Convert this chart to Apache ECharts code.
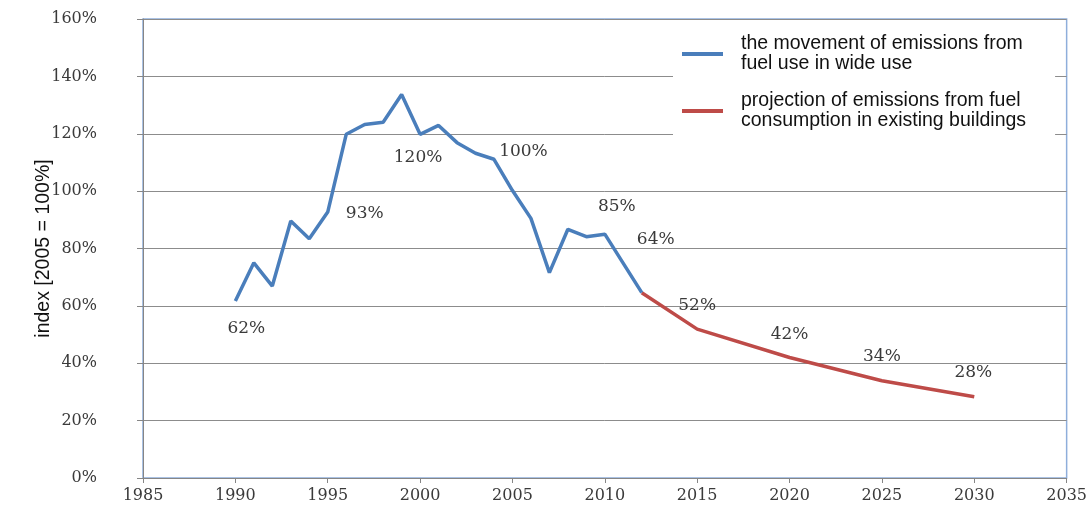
<!DOCTYPE html>
<html>
<head>
<meta charset="utf-8">
<script src="https://cdn.jsdelivr.net/npm/echarts@6/dist/echarts.min.js"></script>
<style>
  html, body { margin: 0; padding: 0; background: #fff; }
  #chart { width: 1090px; height: 512px; }
</style>
</head>
<body>
<div id="chart"></div>
<script>
// measured emissions index, 2005 = 100
const histYears = [1990, 1991, 1992, 1993, 1994, 1995, 1996, 1997, 1998, 1999, 2000,
  2001, 2002, 2003, 2004, 2005, 2006, 2007, 2008, 2009, 2010, 2011, 2012];
const histValues = [61.7, 75, 66.9, 89.6, 83.4, 92.7, 119.8, 123.2, 124, 133.7, 119.8,
  122.9, 116.9, 113.2, 111.1, 100.2, 90.5, 71.6, 86.7, 84.1, 85, 74.8, 64.6];

// projection for existing buildings
const projYears = [2012, 2015, 2020, 2025, 2030];
const projValues = [64.6, 51.9, 42, 33.9, 28.3];

// value labels written on the chart
const histLabelYears = [1990, 1995, 2000, 2005, 2010, 2012];
const histLabelTexts = ['62%', '93%', '120%', '100%', '85%', '64%'];
const projLabelYears = [2015, 2020, 2025, 2030];
const projLabelTexts = ['52%', '42%', '34%', '28%'];

const legendNames = [
  'the movement of emissions from\nfuel use in wide use',
  'projection of emissions from fuel\nconsumption in existing buildings'
];

// label offsets (px) relative to the point, by year
const labelOffsets = {
  1990: [11, 28], 1995: [37, 2], 2000: [-2, 23], 2005: [11, -39],
  2010: [12, -28], 2012: [14, -53], 2015: [0, -24], 2020: [0, -23],
  2025: [0, -24], 2030: [-1, -24]
};

const tickFont = {
  fontFamily: 'DejaVu Serif',
  fontSize: 16,
  color: '#3a3a3a'
};

function buildData(years, values, labelYears, labelTexts) {
  return years.map((y, i) => {
    const k = labelYears.indexOf(y);
    const item = { value: [y, values[i]] };
    if (k >= 0) {
      item.label = {
        show: true,
        position: 'inside',
        offset: labelOffsets[y],
        formatter: labelTexts[k],
        fontFamily: 'DejaVu Serif',
        fontSize: 17,
        color: '#3a3a3a'
      };
    }
    return item;
  });
}

const myChart = echarts.init(document.getElementById('chart'));

const option = {
  animation: false,
  grid: {
    left: 143, right: 23, top: 19, bottom: 34,
    show: true,
    borderColor: '#8eaedb',
    borderWidth: 1.5,
    backgroundColor: 'transparent'
  },
  legend: {
    orient: 'vertical',
    left: 673,
    top: 25,
    padding: [4, 29, 10, 9],
    backgroundColor: '#fff',
    itemWidth: 41,
    itemHeight: 4,
    itemGap: 7,
    icon: 'rect',
    textStyle: {
      fontFamily: 'Liberation Sans',
      fontSize: 19.5,
      lineHeight: 20,
      color: '#111',
      padding: [10, 0, 0, 13]
    },
    data: legendNames
  },
  xAxis: {
    type: 'value',
    min: 1985,
    max: 2035,
    interval: 5,
    axisLine: { show: true, lineStyle: { color: '#868686', width: 1 } },
    axisTick: { show: true, length: 5, lineStyle: { color: '#868686' } },
    splitLine: { show: false },
    axisLabel: Object.assign({ margin: 10, formatter: v => String(v) }, tickFont)
  },
  yAxis: {
    type: 'value',
    min: 0,
    max: 160,
    interval: 20,
    name: 'index [2005 = 100%]',
    nameLocation: 'middle',
    nameGap: 89,
    nameMoveOverlap: false,
    nameTextStyle: {
      fontFamily: 'Liberation Sans',
      fontSize: 19.5,
      color: '#111'
    },
    axisLine: { show: true, lineStyle: { color: '#868686', width: 1 } },
    axisTick: { show: true, length: 6, lineStyle: { color: '#868686' } },
    splitLine: { show: true, lineStyle: { color: '#8c8c8c', width: 1 } },
    axisLabel: Object.assign({ margin: 46, formatter: '{value}%' }, tickFont)
  },
  series: [
    {
      name: legendNames[0],
      type: 'line',
      data: buildData(histYears, histValues, histLabelYears, histLabelTexts),
      showSymbol: true,
      symbol: 'circle',
      symbolSize: 0.01,
      color: '#4a7ebb',
      lineStyle: { color: '#4a7ebb', width: 3.5 },
      z: 3
    },
    {
      name: legendNames[1],
      type: 'line',
      data: buildData(projYears, projValues, projLabelYears, projLabelTexts),
      showSymbol: true,
      symbol: 'circle',
      symbolSize: 0.01,
      color: '#be4b48',
      lineStyle: { color: '#be4b48', width: 3.5 },
      z: 2
    }
  ]
};

myChart.setOption(option);
</script>
</body>
</html>
